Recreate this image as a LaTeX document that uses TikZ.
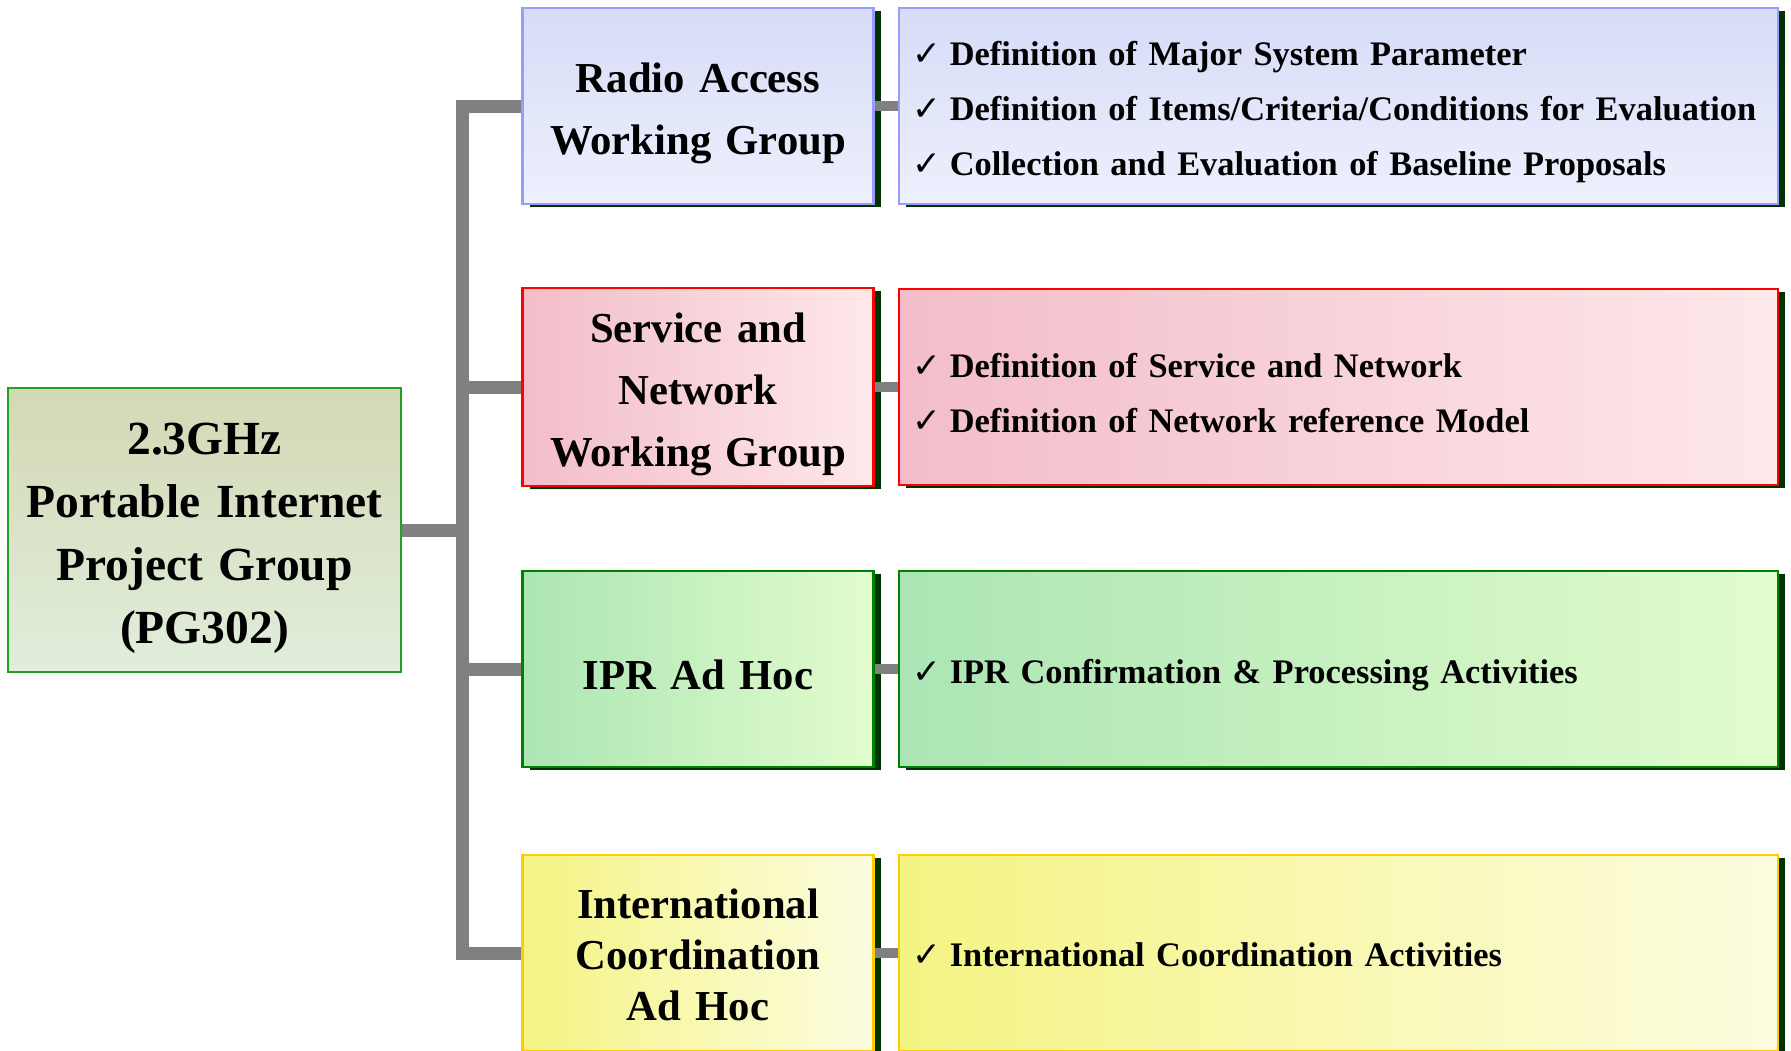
\documentclass[tikz,border=0pt]{standalone}
\usepackage{fontspec}
\setmainfont{Liberation Serif}
\newfontfamily\symfont{DejaVu Sans}
\usetikzlibrary{shadows}

\definecolor{busgray}{HTML}{808080}
\definecolor{shadowgreen}{HTML}{003300}
\definecolor{pgBorder}{HTML}{22A022}
\definecolor{pgTop}{HTML}{D4D8B4}
\definecolor{pgBot}{HTML}{E0EEDC}
\definecolor{raBorder}{HTML}{9C9CF8}
\definecolor{raTop}{HTML}{D6DCF8}
\definecolor{raBot}{HTML}{EDF0FC}
\definecolor{snBorder}{HTML}{FF0000}
\definecolor{snLeft}{HTML}{F2BDC9}
\definecolor{snRight}{HTML}{FEE8EA}
\definecolor{iprBorder}{HTML}{008000}
\definecolor{iprLeft}{HTML}{ACE5B4}
\definecolor{iprRight}{HTML}{E2FCCD}
\definecolor{icBorder}{HTML}{FFCC00}
\definecolor{icLeft}{HTML}{F4F484}
\definecolor{icRight}{HTML}{FCFCE0}

\newcommand{\chk}{{\symfont\char"2713}\hspace{9pt}}
\newcommand{\firstlineht}{0pt}

\tikzset{
  shadowed/.style={drop shadow={shadow xshift=7pt, shadow yshift=-3pt, fill=shadowgreen, opacity=1}},
  firstline/.store in=\firstlineht,
  boxtext/.style={execute at begin node={\rule{0pt}{\firstlineht}}},
  mainbox/.style={boxtext, draw=pgBorder, line width=1.5pt, top color=pgTop, bottom color=pgBot,
    minimum width=393pt, minimum height=284pt, text width=373pt, inner sep=10pt, firstline=1em,
    align=center, font=\fontsize{47.5}{63}\selectfont\bfseries},
  grpbox/.style={boxtext, shadowed, line width=2.5pt, minimum width=351pt, minimum height=196pt, firstline=1.05em,
    text width=331pt, inner sep=10pt, align=center, font=\fontsize{42.7}{62}\selectfont\bfseries},
  listbox/.style={boxtext, shadowed, line width=2.5pt, minimum width=879pt, minimum height=196pt, firstline=1.04em,
    text width=853pt, inner xsep=13pt, inner ysep=10pt, align=left, font=\fontsize{34.4}{55}\selectfont\bfseries},
  bus/.style={draw=busgray, line width=13pt},
  link/.style={draw=busgray, line width=10pt}
}

\begin{document}
\begin{tikzpicture}[x=1pt,y=-1pt]
\useasboundingbox (0,0) rectangle (1791,1050);
\clip (0,0) rectangle (1791,1050);

\node[mainbox] (pg) at (204.5,530) {2.3GHz\\Portable Internet\\Project Group\\(PG302)};

% working groups
\node[grpbox, draw=raBorder, top color=raTop, bottom color=raBot] (ra) at (698,106) {Radio Access\\Working Group};
\node[grpbox, draw=snBorder, left color=snLeft, right color=snRight] (sn) at (698,387) {Service and\\Network\\Working Group};
\node[grpbox, draw=iprBorder, left color=iprLeft, right color=iprRight, firstline=0.98em] (ipr) at (698,669) {IPR Ad Hoc};
\node[grpbox, draw=icBorder, left color=icLeft, right color=icRight, firstline=0.8em,
  font=\fontsize{42.7}{51}\selectfont\bfseries] (ic) at (698,953) {International\\Coordination\\Ad Hoc};

% tasks
\node[listbox, draw=raBorder, top color=raTop, bottom color=raBot] (raList) at (1338.5,106)
  {\chk Definition of Major System Parameter\\\chk Definition of Items/Criteria/Conditions for Evaluation\\\chk Collection and Evaluation of Baseline Proposals};
\node[listbox, draw=snBorder, left color=snLeft, right color=snRight] (snList) at (1338.5,387)
  {\chk Definition of Service and Network\\\chk Definition of Network reference Model};
\node[listbox, draw=iprBorder, left color=iprLeft, right color=iprRight] (iprList) at (1338.5,669)
  {\chk IPR Confirmation \& Processing Activities};
\node[listbox, draw=icBorder, left color=icLeft, right color=icRight, firstline=0.78em] (icList) at (1338.5,953)
  {\chk International Coordination Activities};

\coordinate (hub) at (462,530);
\draw[bus] (pg.east) -- (hub) |- (ra.west);
\draw[bus] (hub) |- (sn.west);
\draw[bus] (hub) |- (ipr.west);
\draw[bus] (hub) |- (ic.west);

\draw[link] (ra.east) -- (raList.west);
\draw[link] (sn.east) -- (snList.west);
\draw[link] (ipr.east) -- (iprList.west);
\draw[link] (ic.east) -- (icList.west);
\end{tikzpicture}
\end{document}
